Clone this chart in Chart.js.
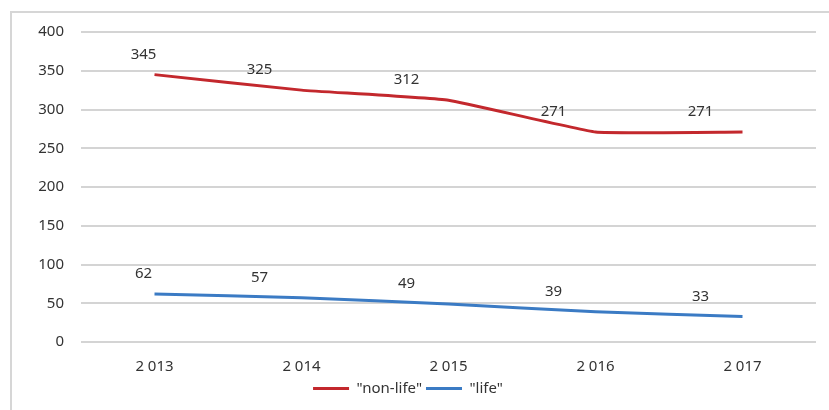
<!DOCTYPE html>
<html>
<head>
<meta charset="utf-8">
<script src="https://cdn.jsdelivr.net/npm/chart.js@4.4.0/dist/chart.umd.min.js"></script>
<style>
  html, body { margin: 0; padding: 0; background: #fff; }
  #wrap { position: relative; width: 829px; height: 410px; }
  #frame { position: absolute; left: 10px; top: 11px; width: 830px; height: 410px;
           border-left: 2px solid #d6d6d6; border-top: 2px solid #d6d6d6; box-sizing: border-box; }
  canvas { position: absolute; left: 0; top: 0; }
</style>
</head>
<body>
<div id="wrap">
  <div id="frame"></div>
  <canvas id="c" width="829" height="410"></canvas>
</div>
<script>
const categories = ['2 013', '2 014', '2 015', '2 016', '2 017'];
const nonLife = [345, 325, 312, 271, 271];
const life = [62, 57, 49, 39, 33];
const seriesNames = ['"non-life"', '"life"'];
const yTicks = [0, 50, 100, 150, 200, 250, 300, 350, 400];

const FONT = "'Noto Sans', 'Open Sans', sans-serif";
const TEXT = '#333333';

const labelPlugin = {
  id: 'pointLabels',
  afterDatasetsDraw(chart) {
    const ctx = chart.ctx;
    ctx.save();
    ctx.font = '15px ' + FONT;
    ctx.fillStyle = TEXT;
    ctx.textAlign = 'center';
    ctx.textBaseline = 'middle';
    chart.data.datasets.forEach((ds, di) => {
      const meta = chart.getDatasetMeta(di);
      meta.data.forEach((pt, i) => {
        const dx = i === 0 ? -11 : -42;
        const dy = -20;
        ctx.fillText(String(ds.data[i]), pt.x + dx, pt.y + dy);
      });
    });
    ctx.restore();
  }
};

new Chart(document.getElementById('c'), {
  type: 'line',
  data: {
    labels: categories,
    datasets: [
      { label: seriesNames[0], data: nonLife, borderColor: '#c3282d', backgroundColor: '#c3282d',
        borderWidth: 3, pointRadius: 0, tension: 0.1, fill: false },
      { label: seriesNames[1], data: life, borderColor: '#3b7bc4', backgroundColor: '#3b7bc4',
        borderWidth: 3, pointRadius: 0, tension: 0.1, fill: false }
    ]
  },
  options: {
    responsive: false,
    animation: false,
    devicePixelRatio: 1,
    layout: { padding: { left: 0, right: 13, top: 32, bottom: 4 } },
    plugins: {
      tooltip: { enabled: false },
      legend: {
        position: 'bottom',
        labels: {
          font: { family: FONT, size: 15 },
          color: TEXT,
          boxWidth: 36,
          boxHeight: 3,
          padding: 4,
          generateLabels(chart) {
            return chart.data.datasets.map((ds, i) => ({
              text: ds.label, fillStyle: ds.borderColor, strokeStyle: ds.borderColor,
              lineWidth: 0, datasetIndex: i, fontColor: TEXT
            }));
          }
        }
      }
    },
    scales: {
      x: {
        offset: true,
        grid: { display: false, drawTicks: false },
        border: { display: false },
        ticks: { font: { family: FONT, size: 15 }, color: TEXT, padding: 16 },
        afterFit(s) { s.height = 35; }
      },
      y: {
        min: 0, max: 400,
        afterBuildTicks(s) { s.ticks = yTicks.map(v => ({ value: v })); },
        grid: { color: '#d4d4d4', lineWidth: 2, drawTicks: false },
        border: { display: false },
        ticks: { font: { family: FONT, size: 15 }, color: TEXT, padding: 17 },
        afterFit(s) { s.width = 81; }
      }
    }
  },
  plugins: [labelPlugin]
});
</script>
</body>
</html>
